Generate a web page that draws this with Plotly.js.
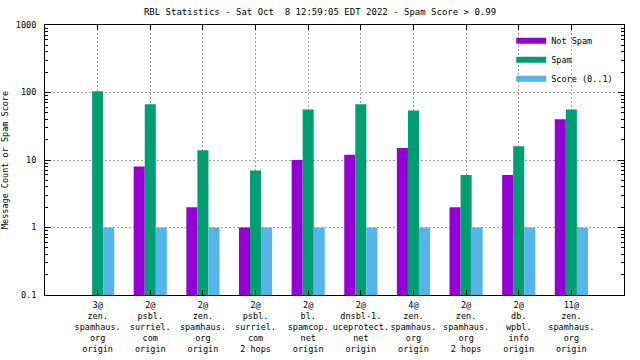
<!DOCTYPE html>
<html>
<head>
<meta charset="utf-8">
<script src="https://cdn.plot.ly/plotly-3.0.1.min.js"></script>
<style>html,body{margin:0;padding:0;background:#fff;}#chart{width:640px;height:360px;}</style>
</head>
<body>
<div id="chart"></div>
<script>
const categories = [
  "3@<br>zen.<br>spamhaus.<br>org<br>origin",
  "2@<br>psbl.<br>surriel.<br>com<br>origin",
  "2@<br>zen.<br>spamhaus.<br>org<br>origin",
  "2@<br>psbl.<br>surriel.<br>com<br>2 hops",
  "2@<br>bl.<br>spamcop.<br>net<br>origin",
  "2@<br>dnsbl-1.<br>uceprotect.<br>net<br>origin",
  "4@<br>zen.<br>spamhaus.<br>org<br>origin",
  "2@<br>zen.<br>spamhaus.<br>org<br>2 hops",
  "2@<br>db.<br>wpbl.<br>info<br>origin",
  "11@<br>zen.<br>spamhaus.<br>org<br>origin"
];
const notSpam = [0, 8, 2, 1, 10, 12, 15, 2, 6, 40];
const spam    = [104, 67, 14, 7, 56, 67, 54, 6, 16, 56];
const score   = [1, 1, 1, 1, 1, 1, 1, 1, 1, 1];
const seriesNames = ["Not Spam", "Spam", "Score (0..1)"];
const seriesColors = ["#9400d3", "#009e73", "#56b4e9"];
const yTickVals = [0.1, 1, 10, 100, 1000];
const yTickText = ["0.1", "1", "10", "100", "1000"];

const FONT = "DejaVu Sans Mono, monospace";
const series = [notSpam, spam, score];
const traces = [];
series.forEach((vals, i) => {
  traces.push({
    type: "bar", x: categories, y: vals, name: seriesNames[i],
    marker: {color: seriesColors[i], line: {width: 0}},
    showlegend: false, hoverinfo: "skip"
  });
});
series.forEach((vals, i) => {
  traces.push({
    type: "scatter", mode: "lines", x: [null], y: [null], name: seriesNames[i],
    line: {color: seriesColors[i], width: 6}, showlegend: true
  });
});

const layout = {
  width: 640, height: 360,
  margin: {l: 45, r: 16, t: 25, b: 65, pad: 0},
  paper_bgcolor: "#fff", plot_bgcolor: "#fff",
  font: {family: FONT, size: 8.5, color: "#000"},
  title: {text: "RBL Statistics - Sat Oct  8 12:59:05 EDT 2022 - Spam Score > 0.99",
          x: 0.5, xanchor: "center", y: 0.967, yanchor: "middle",
          font: {family: FONT, size: 9, color: "#000"}},
  barmode: "group", bargap: 0.37, bargroupgap: 0,
  showlegend: true,
  legend: {x: 0.99, xanchor: "right", y: 0.995, yanchor: "top",
           bgcolor: "rgba(0,0,0,0)", borderwidth: 0,
           font: {family: FONT, size: 8.5, color: "#000"}, tracegroupgap: 0},
  xaxis: {
    type: "category", range: [-1, 10], tickangle: 0,
    showline: true, linecolor: "#000", linewidth: 1, mirror: "allticks",
    ticks: "inside", ticklen: 5, tickcolor: "#000",
    showgrid: true, gridcolor: "#a0a0a0", griddash: "2px,2px", gridwidth: 1,
    tickfont: {family: FONT, size: 8.5, color: "#000"},
    ticklabelstandoff: 2,
    zeroline: false, automargin: false, fixedrange: true
  },
  yaxis: {
    type: "log", range: [-1, 3],
    tickvals: yTickVals, ticktext: yTickText,
    showline: true, linecolor: "#000", linewidth: 1, mirror: "allticks",
    ticks: "inside", ticklen: 6, tickcolor: "#000",
    minor: {ticks: "inside", ticklen: 3, tickcolor: "#000", dtick: "D1", showgrid: false},
    showgrid: true, gridcolor: "#a0a0a0", griddash: "2px,2px", gridwidth: 1,
    tickfont: {family: FONT, size: 8.5, color: "#000"},
    ticklabelstandoff: 6,
    title: {text: "Message Count or Spam Score", standoff: 14, font: {family: FONT, size: 8.5, color: "#000"}},
    zeroline: false, automargin: false, fixedrange: true
  }
};
Plotly.newPlot("chart", traces, layout, {displayModeBar: false, staticPlot: true});
</script>
</body>
</html>
